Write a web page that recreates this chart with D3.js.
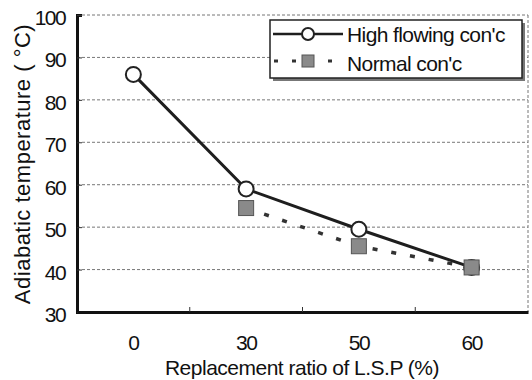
<!DOCTYPE html>
<html>
<head>
<meta charset="utf-8">
<script src="https://cdn.jsdelivr.net/npm/d3@7"></script>
<style>
  body { margin: 0; background: #fff; }
  svg { display: block; }
</style>
</head>
<body>
<script>
// data
const ratios = ['0', '30', '50', '60'];
const highFlowing = [86, 59, 49.5, 40.5];
const normalConc = [null, 54.5, 45.5, 40.5];
const yTicks = [30, 40, 50, 60, 70, 80, 90, 100];
const seriesNames = ["High flowing con'c", "Normal con'c"];

const width = 532;
const height = 380;
const margin = ({top: 15, right: 4, bottom: 68, left: 77});
const font = 'Arial, "Liberation Sans", sans-serif';

const svg = d3.select('body')
              .append('svg')
              .attr('width', width)
              .attr('height', height);

// scales
const xScale = d3.scaleBand()
                 .domain(ratios)
                 .range([margin.left, width - margin.right]);

const yScale = d3.scaleLinear()
                 .domain([30, 100])
                 .range([height - margin.bottom, margin.top]);

const cx = d => xScale(d) + xScale.bandwidth() / 2;

// gridlines (dotted)
svg.append('g')
   .selectAll('line')
   .data(yTicks.filter(t => t > 30))
   .join('line')
   .attr('x1', margin.left)
   .attr('x2', width - margin.right)
   .attr('y1', d => yScale(d))
   .attr('y2', d => yScale(d))
   .attr('stroke', '#777')
   .attr('stroke-width', 1)
   .attr('stroke-dasharray', '3,2');

// right border
svg.append('line')
   .attr('x1', width - margin.right)
   .attr('x2', width - margin.right)
   .attr('y1', margin.top)
   .attr('y2', yScale(30))
   .attr('stroke', '#777')
   .attr('stroke-dasharray', '3,2');

// Y axis
const yAxis = d3.axisLeft(yScale).tickValues(yTicks).tickSize(-5).tickPadding(12);
const gy = svg.append('g')
   .attr('transform', `translate(${margin.left},0)`)
   .call(yAxis);
gy.select('.domain').attr('stroke', '#111').attr('stroke-width', 3);
gy.selectAll('.tick line').attr('stroke', '#333');
gy.selectAll('text')
  .attr('font-family', font)
  .attr('font-size', 21)
  .attr('letter-spacing', -1.6)
  .attr('dy', '0.45em')
  .attr('fill', '#111');

// X axis
const xAxis = d3.axisBottom(xScale).tickSize(0).tickPadding(23);
const gx = svg.append('g')
   .attr('transform', `translate(0,${yScale(30)})`)
   .call(xAxis);
gx.select('.domain').attr('stroke', '#111').attr('stroke-width', 3);
gx.selectAll('text')
  .attr('font-family', font)
  .attr('font-size', 21)
  .attr('letter-spacing', -1.6)
  .attr('fill', '#111');

// small ticks on the band boundaries
svg.append('g')
   .selectAll('line')
   .data(ratios.slice(1))
   .join('line')
   .attr('x1', d => xScale(d))
   .attr('x2', d => xScale(d))
   .attr('y1', yScale(30))
   .attr('y2', yScale(30) - 5)
   .attr('stroke', '#333');

// lines
const line = d3.line()
               .defined(d => d[1] != null)
               .x(d => cx(d[0]))
               .y(d => yScale(d[1]));

svg.append('path')
   .datum(d3.zip(ratios, highFlowing))
   .attr('d', line)
   .attr('fill', 'none')
   .attr('stroke', '#1e1e1e')
   .attr('stroke-width', 3);

svg.append('path')
   .datum(d3.zip(ratios, normalConc).filter(d => d[1] != null))
   .attr('d', line)
   .attr('fill', 'none')
   .attr('stroke', '#333')
   .attr('stroke-width', 3.5)
   .attr('stroke-dasharray', '5,14');

// markers
svg.append('g')
   .selectAll('circle')
   .data(d3.zip(ratios, highFlowing))
   .join('circle')
   .attr('cx', d => cx(d[0]))
   .attr('cy', d => yScale(d[1]))
   .attr('r', 7.5)
   .attr('fill', '#fff')
   .attr('stroke', '#222')
   .attr('stroke-width', 2);

svg.append('g')
   .selectAll('rect')
   .data(d3.zip(ratios, normalConc).filter(d => d[1] != null))
   .join('rect')
   .attr('x', d => cx(d[0]) - 7.5)
   .attr('y', d => yScale(d[1]) - 7.5)
   .attr('width', 15)
   .attr('height', 15)
   .attr('fill', '#8a8a8a')
   .attr('stroke', '#555')
   .attr('stroke-width', 1);

// legend
const lg = svg.append('g').attr('transform', 'translate(270,20)');
lg.append('rect')
  .attr('x', 3).attr('y', 3)
  .attr('width', 252).attr('height', 58)
  .attr('fill', '#777');
lg.append('rect')
  .attr('width', 252).attr('height', 58)
  .attr('fill', '#fff')
  .attr('stroke', '#222')
  .attr('stroke-width', 1.5);

lg.append('line')
  .attr('x1', 3).attr('x2', 73).attr('y1', 14).attr('y2', 14)
  .attr('stroke', '#1e1e1e').attr('stroke-width', 2.5);
lg.append('circle')
  .attr('cx', 38).attr('cy', 14).attr('r', 6)
  .attr('fill', '#fff').attr('stroke', '#222').attr('stroke-width', 2);

lg.append('line')
  .attr('x1', 4).attr('x2', 73).attr('y1', 41).attr('y2', 41)
  .attr('stroke', '#333').attr('stroke-width', 3)
  .attr('stroke-dasharray', '4,14');
lg.append('rect')
  .attr('x', 32).attr('y', 35).attr('width', 12).attr('height', 12)
  .attr('fill', '#8a8a8a').attr('stroke', '#555');

lg.selectAll('text.name')
  .data(seriesNames)
  .join('text')
  .attr('class', 'name')
  .attr('x', 77)
  .attr('y', (d, i) => 22 + i * 29)
  .attr('font-family', font)
  .attr('font-size', 21)
  .attr('letter-spacing', -0.6)
  .attr('fill', '#111')
  .text(d => d);

// axis titles
svg.append('text')
   .attr('x', 302)
   .attr('y', 375)
   .attr('text-anchor', 'middle')
   .attr('font-family', font)
   .attr('font-size', 21)
   .attr('letter-spacing', -0.5)
   .attr('fill', '#111')
   .text('Replacement ratio of L.S.P (%)');

svg.append('text')
   .attr('transform', 'translate(30,164) rotate(-90)')
   .attr('text-anchor', 'middle')
   .attr('font-family', font)
   .attr('font-size', 22)
   .attr('letter-spacing', 0.5)
   .attr('fill', '#111')
   .text('Adiabatic temperature ( °C)');
</script>
</body>
</html>
